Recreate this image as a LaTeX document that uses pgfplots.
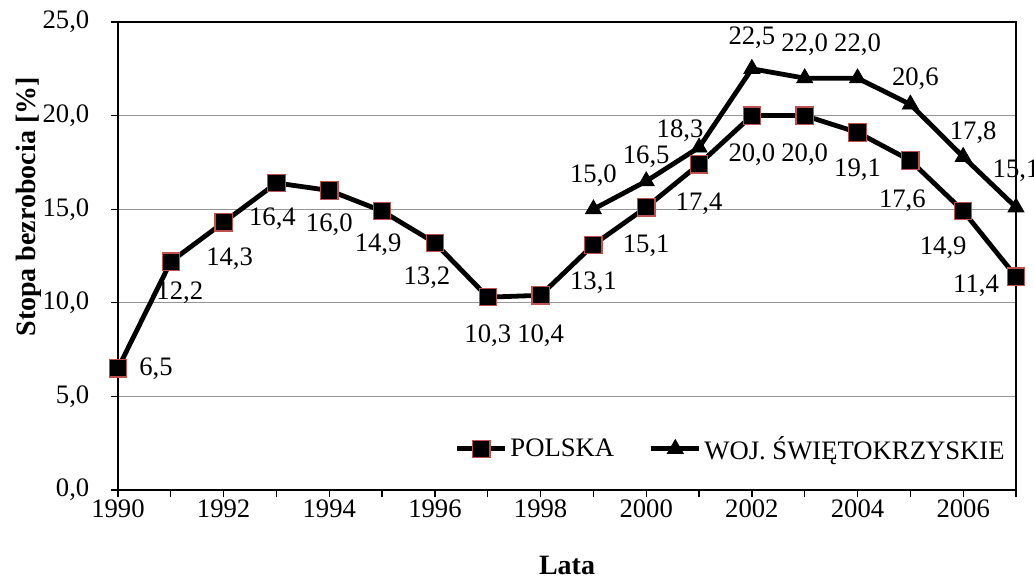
\documentclass[border=0pt]{standalone}
\usepackage{pgfplots}
\usepackage{pgfplotstable}
\pgfplotsset{compat=1.18}
\usepackage{fontspec}
\setmainfont{Liberation Serif}
\definecolor{mkred}{RGB}{192,80,77}
\definecolor{gridgray}{RGB}{150,150,150}

\pgfplotstableread{
x y dx dy
1990 6.5 38 0
1991 12.2 9 -31
1992 14.3 6 -36
1993 16.4 -4 -36
1994 16.0 0 -34
1995 14.9 -4 -34
1996 13.2 -8 -35
1997 10.3 0 -38
1998 10.4 0 -40
1999 13.1 0 -38
2000 15.1 0 -38
2001 17.4 0 -39
2002 20.0 0 -39
2003 20.0 0 -39
2004 19.1 0 -37
2005 17.6 -8 -40
2006 14.9 -20 -37
2007 11.4 -40 -9
}\polska

\pgfplotstableread{
x y dx dy
1999 15.0 0 34
2000 16.5 0 24
2001 18.3 -19 17
2002 22.5 0 31
2003 22.0 0 33
2004 22.0 0 33
2005 20.6 5 26
2006 17.8 10 24
2007 15.1 0 37
}\woj

\begin{document}
\begin{tikzpicture}
\useasboundingbox (-88.5pt,-71.25pt) rectangle (687pt,367.5pt);
\begin{axis}[
  at={(0,0)}, anchor=south west,
  scale only axis,
  width=673.5pt, height=351pt,
  xmin=1990, xmax=2007,
  ymin=0, ymax=25,
  xtick={1990,1992,...,2006},
  minor xtick={1991,1993,...,2007},
  ytick={0,5,...,25},
  tick pos=left,
  tick align=outside,
  major tick length=5pt,
  minor tick length=5pt,
  every tick/.style={black, line width=1pt},
  every minor tick/.style={black, line width=1pt},
  axis line style={black, line width=1.2pt},
  ymajorgrids,
  major grid style={gridgray, line width=1pt},
  font=\fontsize{20}{24}\selectfont,
  /pgf/number format/assume math mode=true,
  xticklabel style={/pgf/number format/1000 sep={}, yshift=1pt},
  yticklabel style={/pgf/number format/.cd, fixed, fixed zerofill, precision=1, use comma, /tikz/xshift=-13pt},
  xlabel={\bfseries Lata},
  ylabel={\bfseries Stopa bezrobocia [\%]},
  every axis x label/.style={at={(axis description cs:0.5,0)}, anchor=center, yshift=-56.25pt, font=\fontsize{21}{25}\selectfont},
  every axis y label/.style={at={(axis description cs:0,0.605)}, anchor=center, xshift=-67pt, rotate=90, font=\fontsize{21}{25}\selectfont},
  clip=false,
  legend style={at={(0.995,0.088)}, anchor=east, draw=none, fill=none, legend columns=2,
    font=\fontsize{20}{24}\selectfont,
    /tikz/every even column/.append style={column sep=24pt}},
  legend image code/.code={\draw[mark repeat=2,mark phase=2] plot coordinates {(0pt,0pt) (18pt,0pt) (36pt,0pt)};},
  nodes near coords={\pgfmathprintnumber[fixed,fixed zerofill,precision=1,use comma,assume math mode=true]{\pgfplotspointmeta}},
  point meta=y,
  visualization depends on={\thisrow{dx} \as \dx},
  visualization depends on={\thisrow{dy} \as \dy},
  every node near coord/.style={anchor=center, xshift=0.75*\dx pt, yshift=0.75*\dy pt, font=\fontsize{20}{24}\selectfont, black},
]
\addplot[black, line width=3.6pt, mark=square*, mark size=6.5pt,
  mark options={fill=black, draw=mkred, line width=0.9pt}]
  table[x=x, y=y] {\polska};
\addlegendentry{POLSKA}
\addplot[black, line width=3.6pt, mark=triangle*, mark size=7pt,
  mark options={fill=black, draw=black, line width=0.5pt}]
  table[x=x, y=y] {\woj};
\addlegendentry{WOJ. ŚWIĘTOKRZYSKIE}
\end{axis}
\end{tikzpicture}
\end{document}
